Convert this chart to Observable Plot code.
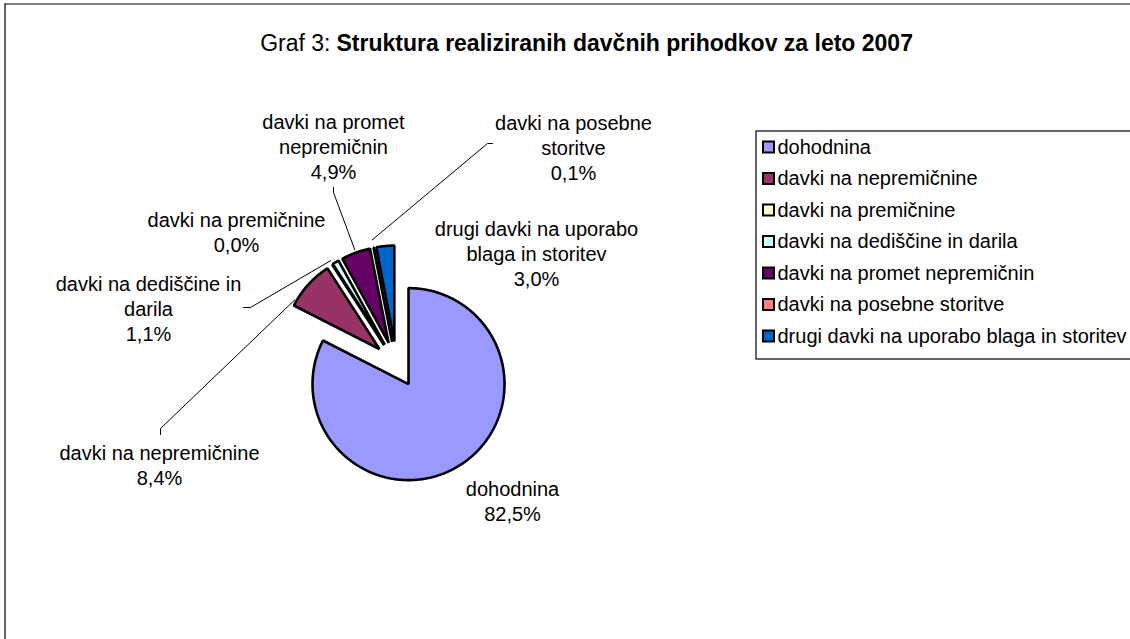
<!DOCTYPE html>
<html>
<head>
<meta charset="utf-8">
<script src="https://cdn.jsdelivr.net/npm/d3@7"></script>
<script src="https://cdn.jsdelivr.net/npm/@observablehq/plot@0.6"></script>
<style>
  html, body { margin: 0; padding: 0; background: #fff; }
  #chart svg { display: block; font-family: "Liberation Sans", Arial, sans-serif; }
</style>
</head>
<body>
<div id="chart"></div>
<script>
// ---------- data ----------
const categories = [
  "dohodnina",
  "davki na nepremičnine",
  "davki na premičnine",
  "davki na dediščine in darila",
  "davki na promet nepremičnin",
  "davki na posebne storitve",
  "drugi davki na uporabo blaga in storitev"
];
const shares = [82.5, 8.4, 0.0, 1.1, 4.9, 0.1, 3.0];
const colors = ["#9999FF", "#993366", "#FFFFCC", "#CCFFFF", "#660066", "#FF8080", "#0066CC"];
const labelNames = [
  "dohodnina",
  "davki na nepremičnine",
  "davki na premičnine",
  "davki na dediščine in\ndarila",
  "davki na promet\nnepremičnin",
  "davki na posebne\nstoritve",
  "drugi davki na uporabo\nblaga in storitev"
];
const titleRegular = "Graf 3:";
const titleBold = "Struktura realiziranih davčnih prihodkov za leto 2007";

// ---------- layout ----------
const W = 1130, H = 639;
const cx = 396, cy = 364, R = 96, explode = 23;
const labelPos = [
  [512, 499.5], [159, 463.5], [236, 230.5], [148, 307], [333, 145.5], [573, 146.5], [536, 252]
];
const leaderLayout = [
  {i: 1, start: [[160, 434], [160, 428]], f: 0.1, dr: 2},
  {i: 3, start: [[243, 307], [250, 307]], f: 0.0, dr: 4},
  {i: 4, start: [[333, 187], [333, 192]], f: 0.5, dr: 3},
  {i: 5, start: [[492, 143], [487, 143]], f: 0.5, dr: 8}
];
const legend = {x0: 756, y0: 131, y1: 359, sw: 763, size: 11, row0: 147, step: 31.5};
const FONT = 20;
const TITLE = {split: 330, gap: 6, y: 43, size: 23};

// ---------- geometry ----------
const arcs = d3.pie().sort(null).value(d => d)(shares);
const vertexOf = a => {
  const m = (a.startAngle + a.endAngle) / 2;
  return [cx + explode * Math.sin(m), cy - explode * Math.cos(m)];
};
const slicePts = [];
arcs.forEach((a, i) => {
  const [vx, vy] = vertexOf(a);
  slicePts.push({name: categories[i], x: vx, y: vy});
  const n = Math.max(1, Math.ceil((a.endAngle - a.startAngle) / 0.01));
  for (let k = 0; k <= n; k++) {
    const t = a.startAngle + (a.endAngle - a.startAngle) * k / n;
    slicePts.push({name: categories[i], x: vx + R * Math.sin(t), y: vy - R * Math.cos(t)});
  }
});

const leaderPts = [];
leaderLayout.forEach(L => {
  const a = arcs[L.i];
  const [vx, vy] = vertexOf(a);
  const t = a.startAngle + L.f * (a.endAngle - a.startAngle);
  L.start.forEach(p => leaderPts.push({id: L.i, x: p[0], y: p[1]}));
  leaderPts.push({id: L.i, x: vx + (R + L.dr) * Math.sin(t), y: vy - (R + L.dr) * Math.cos(t)});
});

const fmt = v => v.toFixed(1).replace(".", ",") + "%";
const labels = categories.map((c, i) => ({
  text: labelNames[i] + "\n" + fmt(shares[i]),
  x: labelPos[i][0], y: labelPos[i][1]
}));

const legendRows = categories.map((c, i) => ({name: c, y: legend.row0 + i * legend.step}));

// ---------- plot ----------
const chart = Plot.plot({
  width: W, height: H,
  margin: 0,
  x: {domain: [0, W], range: [0, W], axis: null},
  y: {domain: [0, H], range: [0, H], axis: null},
  color: {domain: categories, range: colors},
  marks: [
    // outer frame (left and top edges visible)
    Plot.ruleX([4.5], {y1: 3.5, y2: H + 5, stroke: "#000", strokeWidth: 1.2}),
    Plot.ruleY([3.5], {x1: 4.5, x2: W + 5, stroke: "#000", strokeWidth: 1.2}),
    // title
    Plot.text([titleRegular], {x: TITLE.split, y: TITLE.y, text: d => d, textAnchor: "end", fontSize: TITLE.size, fill: "#000"}),
    Plot.text([titleBold], {x: TITLE.split + TITLE.gap, y: TITLE.y, text: d => d, textAnchor: "start", fontSize: TITLE.size, fontWeight: "bold", fill: "#000"}),
    // leader lines
    Plot.line(leaderPts, {x: "x", y: "y", z: "id", stroke: "#000", strokeWidth: 1, curve: "linear"}),
    // slices
    Plot.line(slicePts, {x: "x", y: "y", z: "name", fill: "name", stroke: "#000", strokeWidth: 2.6,
      strokeLinejoin: "miter", curve: "linear-closed"}),
    // data labels
    Plot.text(labels, {x: "x", y: "y", text: "text", fontSize: FONT, lineHeight: 1.25,
      textAnchor: "middle", lineAnchor: "middle", fill: "#000"}),
    // legend
    Plot.rect([0], {x1: legend.x0, x2: W + 10, y1: legend.y0, y2: legend.y1, fill: "none", stroke: "#000", strokeWidth: 1.2}),
    Plot.rect(legendRows, {x1: legend.sw, x2: legend.sw + legend.size,
      y1: d => d.y - legend.size / 2, y2: d => d.y + legend.size / 2,
      fill: "name", stroke: "#000", strokeWidth: 2}),
    Plot.text(legendRows, {x: legend.sw + legend.size + 3, y: "y", text: "name", textAnchor: "start",
      fontSize: FONT, fill: "#000"})
  ]
});
document.getElementById("chart").appendChild(chart);
</script>
</body>
</html>
